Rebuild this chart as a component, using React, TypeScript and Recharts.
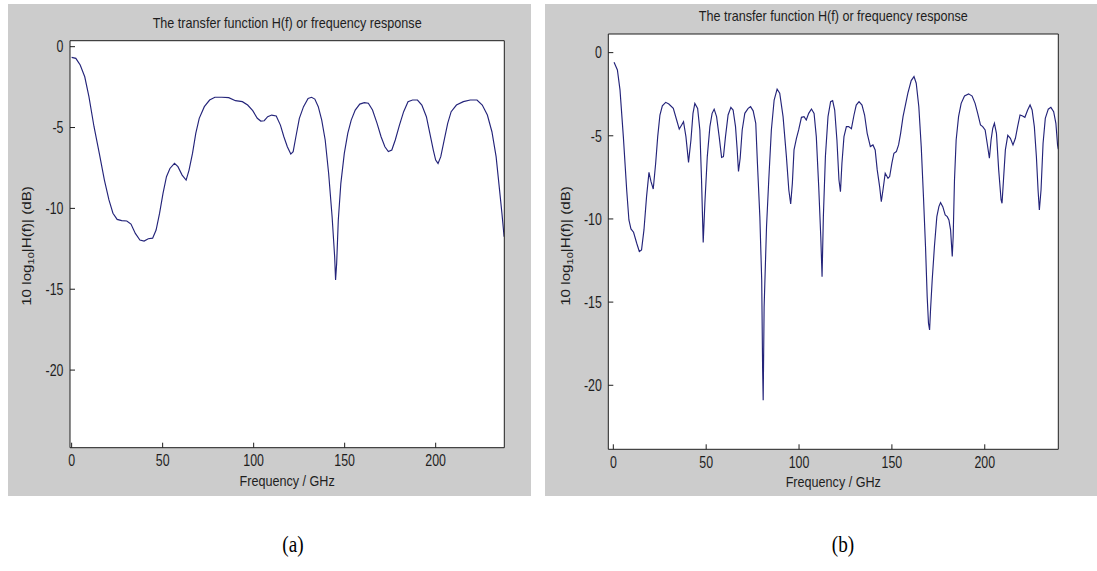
import React from 'react';
import { LineChart, Line, XAxis, YAxis, CartesianGrid, Label } from 'recharts';

const FONT = '"Liberation Sans", Arial, Helvetica, sans-serif';
const SERIF = '"Liberation Serif", "Times New Roman", serif';
const INK = '#1e1e1e';
const LINE_COLOR = '#24247a';
const PANEL_BG = '#cccccc';
const SX = 0.83;
const TICK_SX = 0.75;
const TICK_FS = 16.5;

const xTicks = [0, 50, 100, 150, 200];
const yTicks = [-20, -15, -10, -5, 0];
const titleText = 'The transfer function H(f) or frequency response';
const xLabelText = 'Frequency / GHz';
const captions = ['(a)', '(b)'];

const leftFreq = [0, 2.3, 4.7, 7.2, 9.5, 12.3, 15.2, 18, 20.5, 22.7, 25, 27.5, 30.3, 32.6, 35, 37.5, 39.8, 42.1, 44.5, 46.4, 48.3, 50.2, 52.1, 54, 56.5, 58.4, 60.7, 62.9, 64.5, 66.4, 68.2, 70.1, 72.9, 75.8, 78.7, 82.5, 86.3, 90, 93.8, 96.7, 99.5, 102, 103.9, 105.8, 107.7, 109.9, 112.4, 114.7, 116.6, 118.5, 120.4, 121.7, 123.2, 125.1, 127.4, 129.9, 131.8, 133.6, 135.5, 137.4, 139.3, 141.2, 143.1, 144.5, 145, 145.6, 146.5, 147.9, 149.8, 151.7, 153.6, 155.8, 158.3, 160.8, 163, 165.3, 167.8, 170, 172.1, 174, 175.9, 177.8, 180.1, 182.4, 184.8, 187.3, 190, 192.4, 194.9, 196.8, 198.7, 200, 201.3, 202.8, 204.7, 206.6, 208.5, 211.4, 215.2, 219, 222.7, 225.6, 228.4, 230.9, 233.2, 235.1, 236.4, 237.6];
const leftDb = [-0.66, -0.72, -1.13, -1.86, -3.09, -4.95, -6.6, -8.25, -9.48, -10.3, -10.68, -10.76, -10.78, -10.97, -11.55, -11.96, -12.02, -11.88, -11.84, -11.34, -10.31, -9.07, -8.04, -7.53, -7.22, -7.42, -7.94, -8.25, -7.63, -6.6, -5.36, -4.43, -3.71, -3.3, -3.13, -3.13, -3.15, -3.34, -3.4, -3.61, -3.96, -4.43, -4.6, -4.58, -4.33, -4.23, -4.29, -4.85, -5.57, -6.19, -6.64, -6.49, -5.57, -4.43, -3.71, -3.2, -3.13, -3.24, -3.71, -4.54, -5.77, -7.84, -10.52, -12.99, -14.43, -13.4, -10.72, -8.45, -6.6, -5.36, -4.54, -3.92, -3.55, -3.46, -3.5, -3.92, -4.74, -5.57, -6.19, -6.49, -6.39, -5.77, -4.85, -4.02, -3.4, -3.3, -3.3, -3.61, -4.33, -5.36, -6.39, -7.01, -7.22, -6.8, -5.77, -4.74, -4.02, -3.61, -3.4, -3.3, -3.3, -3.61, -4.23, -5.26, -6.8, -8.87, -10.31, -11.75];

const rightFreq = [0.4, 2.2, 3.6, 5.4, 7.2, 8.4, 9.5, 10.9, 12.6, 14,
  15.2, 16.5, 17.9, 19.2, 20.3, 21.5, 22.8, 23.9, 25.1, 26.4,
  28.2, 29.9, 32.3, 34.1, 35.5, 36.8, 37.8, 39.1, 40.5, 41.8,
  42.9, 43.9, 45.4, 46.6, 47.5, 48.4, 49.3, 50.6, 52, 53.2,
  54.3, 55.6, 57, 58.3, 59.3, 60.4, 61.8, 63.3, 64.5, 65.8,
  66.7, 67.4, 68.3, 69.4, 70.8, 72.6, 73.9, 75.3, 76.7, 77.6,
  78.9, 79.9, 80.4, 80.7, 81.2, 82.5, 83.7, 85.1, 86.6, 88.2,
  89.6, 91.4, 93.2, 94.5, 95.5, 96.4, 97.3, 98.6, 99.8, 101.3,
  102.7, 103.9, 105.2, 106.7, 108.1, 109.3, 110.6, 111.7, 112.4, 113.1,
  114.2, 115.6, 117, 118.1, 119.2, 120.4, 121.5, 122.3, 123.1, 124.2,
  125.5, 126.7, 128.2, 129.6, 130.8, 132.3, 133.9, 135.3, 136.7, 138.4,
  139.8, 141, 142.1, 143.4, 144.3, 145.2, 146.4, 147.9, 148.8, 150,
  151.1, 152.4, 153.6, 154.7, 156, 158.6, 160.4, 161.9, 163.1, 164.5,
  165.8, 167, 168.1, 169, 169.7, 170.3, 170.8, 171.7, 172.9, 174.2,
  175.3, 176.2, 177.4, 178.7, 179.8, 180.7, 181.6, 182.5, 183, 183.7,
  184.6, 185.9, 187.3, 189.1, 191.3, 193.2, 194.8, 196.2, 197.7, 198.9,
  200.2, 201.3, 202.5, 203.4, 204.3, 205.2, 206.3, 207.5, 208.8, 209.3,
  210.2, 211.1, 212.4, 213.8, 215.2, 216.5, 217.7, 219, 220.4, 221.6,
  223.1, 224.4, 225.5, 226.7, 227.8, 228.7, 229.4, 230.3, 231.4, 232.6,
  234.2, 235.6, 237.1, 238.3, 239.2, 239.6];
const rightDb = [-0.58, -1.04, -2.24, -5.05, -8.26, -10.06, -10.6, -10.8, -11.46, -11.96,
  -11.86, -10.66, -8.66, -7.2, -7.76, -8.2, -6.65, -5.05, -3.75, -3.2,
  -2.99, -3.09, -3.35, -4.05, -4.6, -4.35, -4.15, -5.05, -6.6, -5.25,
  -3.65, -3.05, -3.35, -4.65, -7.65, -11.42, -9.06, -6.25, -4.45, -3.65,
  -3.4, -3.85, -5.05, -6.3, -6.25, -5.05, -3.75, -3.29, -3.45, -4.45,
  -5.85, -7.15, -6.35, -4.65, -3.65, -3.35, -3.25, -3.5, -4.25, -6.65,
  -9.86, -13.67, -19.08, -20.9, -15.3, -10.46, -7.66, -4.65, -2.85, -2.2,
  -2.44, -3.85, -6.25, -8.26, -9.1, -7.86, -5.85, -5.15, -4.65, -3.89,
  -3.85, -4.05, -3.65, -3.39, -3.65, -5.05, -8.06, -11.06, -13.47, -9.86,
  -6.25, -3.85, -2.95, -2.89, -3.45, -5.25, -7.66, -8.36, -6.65, -5.05,
  -4.45, -4.45, -4.57, -3.75, -3.15, -2.95, -3.15, -3.75, -4.85, -5.65,
  -5.55, -5.85, -7.05, -8.06, -8.96, -8.26, -7.25, -7.55, -7.45, -6.65,
  -6.05, -5.95, -5.55, -4.85, -3.85, -2.44, -1.68, -1.44, -1.84, -3.25,
  -5.65, -8.66, -11.66, -14.67, -16.27, -16.67, -15.47, -13.67, -11.66, -9.86,
  -9.26, -9.02, -9.26, -9.76, -9.86, -10.06, -10.66, -12.26, -11.06, -7.66,
  -5.25, -3.85, -3.05, -2.61, -2.48, -2.61, -3.05, -3.65, -4.35, -4.45,
  -4.65, -5.45, -6.35, -5.25, -4.55, -4.25, -4.85, -7.05, -8.86, -9.06,
  -7.45, -5.85, -4.97, -5.15, -5.55, -5.15, -4.45, -3.75, -3.81, -3.89,
  -3.45, -3.15, -3.45, -4.45, -6.25, -8.26, -9.46, -8.26, -5.45, -3.95,
  -3.4, -3.29, -3.55, -4.25, -5.55, -5.8];

const toRows = (f: number[], d: number[]) => f.map((x, i) => ({ f: x, db: d[i] }));

function XTick(props: any) {
  const { x, y, payload } = props;
  return (
    <text transform={`translate(${x},${y + 18.6}) scale(${TICK_SX},1)`} textAnchor="middle" fontFamily={FONT} fontSize={TICK_FS} fill={INK}>
      {payload.value}
    </text>
  );
}

function YTick(props: any) {
  const { x, y, payload } = props;
  return (
    <text transform={`translate(${x - 6.5},${y + 5.8}) scale(${TICK_SX},1)`} textAnchor="end" fontFamily={FONT} fontSize={TICK_FS} fill={INK}>
      {payload.value}
    </text>
  );
}

function HText({ x, y, text }: { x: number; y: number; text: string }) {
  return (
    <text transform={`translate(${x},${y}) scale(${SX},1)`} textAnchor="middle" fontFamily={FONT} fontSize={15.2} fill={INK}>
      {text}
    </text>
  );
}

function YLabelText({ x, y }: { x: number; y: number }) {
  return (
    <text transform={`translate(${x},${y}) rotate(-90) scale(1,${SX})`} textAnchor="middle" fontFamily={FONT} fontSize={15.2} fill={INK}>
      <tspan>10 log</tspan>
      <tspan fontSize={11} dy={4}>10</tspan>
      <tspan dy={-4}>|H(f)| (dB)</tspan>
    </text>
  );
}

type PanelProps = {
  freq: number[];
  db: number[];
  xDomain: [number, number];
  yDomain: [number, number];
  pageLeft: number;
  width: number;
  height: number;
  plot: { left: number; top: number; right: number; bottom: number };
  titleY: number;
  xLabelY: number;
  yLabelX: number;
  yLabelY: number;
};

const Y_AXIS_W = 40;
const X_AXIS_H = 30;
const SIDE = 2;

function Panel(p: PanelProps) {
  const data = toRows(p.freq, p.db);
  const cx = (p.plot.left + p.plot.right) / 2;
  return (
    <div style={{ position: 'absolute', left: p.pageLeft, top: 0, width: p.width, height: p.height }}>
      <LineChart
        width={p.width}
        height={p.height}
        data={data}
        margin={{
          top: p.plot.top - SIDE,
          left: p.plot.left - Y_AXIS_W,
          right: p.width - p.plot.right - SIDE,
          bottom: p.height - p.plot.bottom - X_AXIS_H,
        }}
      >
        <CartesianGrid xAxisId="b" yAxisId="l" fill="#ffffff" horizontal={false} vertical={false} />
        <XAxis
          xAxisId="b"
          dataKey="f"
          type="number"
          domain={p.xDomain}
          allowDataOverflow
          ticks={xTicks}
          interval={0}
          height={X_AXIS_H}
          tickSize={-5}
          tickMargin={5}
          stroke={INK}
          tick={<XTick />}
        >
          <Label content={() => <HText x={cx} y={p.xLabelY} text={xLabelText} />} />
        </XAxis>
        <XAxis
          xAxisId="t"
          orientation="top"
          type="number"
          domain={p.xDomain}
          allowDataOverflow
          ticks={xTicks}
          interval={0}
          height={SIDE}
          tickSize={-5}
          stroke={INK}
          tick={false}
        >
          <Label content={() => <HText x={cx} y={p.titleY} text={titleText} />} />
        </XAxis>
        <YAxis
          yAxisId="l"
          type="number"
          domain={p.yDomain}
          allowDataOverflow
          ticks={yTicks}
          interval={0}
          width={Y_AXIS_W}
          tickSize={-5}
          tickMargin={5}
          stroke={INK}
          tick={<YTick />}
        >
          <Label content={() => <YLabelText x={p.yLabelX} y={p.yLabelY} />} />
        </YAxis>
        <YAxis
          yAxisId="r"
          orientation="right"
          type="number"
          domain={p.yDomain}
          allowDataOverflow
          ticks={yTicks}
          interval={0}
          width={SIDE}
          tickSize={-5}
          stroke={INK}
          tick={false}
        />
        <Line
          xAxisId="b"
          yAxisId="l"
          type="linear"
          dataKey="db"
          stroke={LINE_COLOR}
          strokeWidth={1.15}
          dot={false}
          activeDot={false}
          isAnimationActive={false}
        />
      </LineChart>
    </div>
  );
}

export default function App() {
  return (
    <div style={{ position: 'absolute', left: 0, top: 0, width: 1097, height: 571, background: '#ffffff', overflow: 'hidden' }}>
      <div style={{ position: 'absolute', left: 8, top: 4, width: 523, height: 492, background: PANEL_BG }} />
      <div style={{ position: 'absolute', left: 545, top: 4, width: 552, height: 492, background: PANEL_BG }} />
      <Panel
        freq={leftFreq}
        db={leftDb}
        xDomain={[-0.9, 237.7]}
        yDomain={[-24.8, 0.37]}
        pageLeft={0}
        width={540}
        height={500}
        plot={{ left: 70, top: 40.7, right: 504.3, bottom: 447.7 }}
        titleY={27.5}
        xLabelY={486}
        yLabelX={31}
        yLabelY={246}
      />
      <Panel
        freq={rightFreq}
        db={rightDb}
        xDomain={[-2.7, 239.6]}
        yDomain={[-23.85, 1.12]}
        pageLeft={545}
        width={552}
        height={500}
        plot={{ left: 63.3, top: 34, right: 513.3, bottom: 449.3 }}
        titleY={20.7}
        xLabelY={487.3}
        yLabelX={25}
        yLabelY={246}
      />
      {captions.map((c, i) => (
        <div
          key={c}
          style={{
            position: 'absolute',
            left: i === 0 ? 293 : 843,
            top: 530,
            transform: 'translateX(-50%) scaleX(0.8)',
            fontFamily: SERIF,
            fontSize: 24,
            lineHeight: '28px',
            color: '#000',
          }}
        >
          {c}
        </div>
      ))}
    </div>
  );
}
